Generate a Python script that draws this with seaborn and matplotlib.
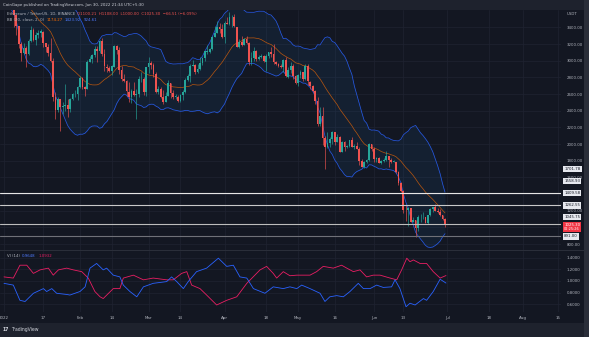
import numpy as np
import pandas as pd
import matplotlib
matplotlib.use("Agg")
import matplotlib.pyplot as plt
import matplotlib.transforms as mtransforms
from matplotlib.patches import Rectangle
from matplotlib.text import Annotation
import seaborn as sns

sns.set_theme(style="dark")
plt.rcParams["font.family"] = ["DejaVu Sans"]

# ---------------- data ----------------
# warm-up closes Dec 12 - Dec 31 2021 (needed for the 20-day Bollinger band)
close_dec = [4130, 3780, 3860, 4020, 3960, 3880, 3960, 3920, 3940, 4020,
             3980, 4110, 4050, 4100, 4070, 4040, 3800, 3630, 3710, 3680]

# daily candles Jan 1 - Jun 30 2022 (ETH/USDT)
close_2022 = [
    3766, 3829, 3761, 3794, 3550, 3418, 3195, 3090, 3157, 3083, 3238, 3372, 3243, 3307, 3330, 3350,
    3212, 3164, 3096, 3000, 2562, 2407, 2537, 2439, 2458, 2467, 2420, 2546, 2598, 2604, 2688,
    2792, 2680, 2660, 2990, 3020, 3065, 3145, 3120, 3240, 3075, 2930, 2915, 2880, 2930, 3180, 3125,
    2885, 2785, 2760, 2630, 2570, 2640, 2590, 2600, 2780, 2780, 2620, 2920,
    2970, 2950, 2840, 2620, 2660, 2560, 2500, 2580, 2730, 2610, 2560, 2570, 2520, 2590, 2620, 2770,
    2820, 2940, 2950, 2860, 2900, 2970, 3030, 3110, 3110, 3140, 3290, 3330, 3400, 3385, 3280,
    3450, 3445, 3520, 3520, 3410, 3170, 3230, 3190, 3260, 3210, 2980, 3030, 3120, 3020, 3040, 3060,
    2990, 3060, 3100, 3080, 2990, 2960, 2940, 2920, 3010, 2810, 2890, 2940, 2820, 2730,
    2830, 2860, 2780, 2940, 2750, 2700, 2640, 2520, 2240, 2340, 2070, 1960, 2010, 2060, 2150, 2020,
    2090, 1910, 2020, 1960, 1975, 2045, 1970, 1980, 1945, 1800, 1725, 1790, 1810, 1995, 1940,
    1815, 1830, 1775, 1800, 1805, 1860, 1810, 1790, 1790, 1665, 1530, 1435, 1210, 1205, 1230, 1070,
    1085, 995, 1125, 1125, 1125, 1050, 1145, 1225, 1240, 1200, 1190, 1145, 1100, 1025.3]
high_2022 = [
    3767, 3852, 3838, 3876, 3842, 3555, 3420, 3230, 3212, 3177, 3260, 3412, 3397, 3341, 3364, 3380,
    3360, 3214, 3195, 3270, 3030, 2620, 2560, 2546, 2505, 2722, 2539, 2550, 2615, 2653, 2696,
    2818, 2802, 2692, 3004, 3060, 3075, 3180, 3175, 3250, 3275, 3140, 2960, 2940, 2950, 3190, 3190,
    3165, 2935, 2840, 2770, 2750, 2660, 2745, 2660, 2815, 2860, 2810, 2930,
    3050, 3000, 2970, 2860, 2700, 2680, 2650, 2630, 2770, 2730, 2650, 2600, 2590, 2600, 2650, 2790,
    2840, 2955, 3010, 2960, 2960, 3040, 3040, 3120, 3190, 3150, 3300, 3420, 3480, 3450, 3440,
    3480, 3530, 3580, 3545, 3555, 3410, 3260, 3300, 3270, 3300, 3220, 3100, 3160, 3130, 3070, 3080,
    3070, 3080, 3110, 3160, 3200, 3000, 2970, 2960, 3020, 3040, 2920, 2980, 2960, 2830,
    2840, 2890, 2870, 2960, 2960, 2760, 2710, 2650, 2560, 2450, 2450, 2100, 2140, 2090, 2160, 2150,
    2120, 2100, 2040, 2040, 1990, 2050, 2080, 1995, 2020, 1960, 1820, 1800, 1820, 2015, 2000,
    1970, 1850, 1840, 1810, 1830, 1920, 1860, 1830, 1810, 1790, 1680, 1540, 1450, 1265, 1240, 1230,
    1130, 1090, 1150, 1160, 1190, 1130, 1150, 1235, 1250, 1280, 1235, 1220, 1145, 1108]
low_2022 = [
    3676, 3722, 3696, 3722, 3400, 3312, 3150, 3000, 3086, 2928, 3066, 3222, 3234, 3185, 3278, 3290,
    3170, 3108, 3054, 2980, 2520, 2300, 2379, 2159, 2364, 2397, 2329, 2385, 2531, 2562, 2530,
    2676, 2657, 2580, 2660, 2980, 2970, 3040, 2990, 3090, 3060, 2880, 2860, 2860, 2830, 2930, 3080,
    2840, 2760, 2745, 2580, 2500, 2490, 2580, 2300, 2560, 2750, 2590, 2580,
    2850, 2900, 2800, 2610, 2600, 2550, 2480, 2500, 2580, 2550, 2540, 2545, 2510, 2510, 2530, 2610,
    2760, 2750, 2940, 2840, 2850, 2890, 2950, 3000, 3080, 3090, 3130, 3280, 3330, 3330, 3270,
    3210, 3440, 3430, 3400, 3400, 3160, 3150, 3180, 3190, 3200, 2950, 2950, 3000, 3000, 3010, 3030,
    2980, 2880, 3030, 3050, 2960, 2950, 2930, 2910, 2860, 2800, 2790, 2850, 2780, 2720,
    2700, 2790, 2760, 2770, 2710, 2660, 2630, 2480, 2220, 2220, 1990, 1700, 1950, 1960, 2000, 1990,
    2020, 1900, 1900, 1920, 1950, 1960, 1960, 1940, 1940, 1750, 1720, 1710, 1770, 1800, 1920,
    1790, 1780, 1770, 1760, 1790, 1800, 1730, 1770, 1780, 1650, 1510, 1420, 1170, 1075, 1015, 1060,
    1060, 880, 960, 1060, 1105, 1050, 1040, 1140, 1180, 1195, 1170, 1140, 1085, 1000]

# horizontal levels drawn on the chart
levels = [1409.58, 1262.55, 1045.75, 891.00]
level_colors = ["#e6e6e6", "#c9c9c9", "#bdbdbd", "#6f7178"]
# price-scale tags without visible lines
extra_tags = [1701.78, 1558.93]
last_price = 1025.30
countdown = "02:25:26"

# Vortex indicator (14) (day offset from Jan 1)
vip_day = [0, 3.8, 6.5, 8.6, 12, 16.1, 17.4, 19.5, 21.5, 25.6, 26.9, 31, 33.1, 35.1, 37.8,
           40.5, 41.9, 44.6, 47.3, 48.7, 51.4, 54.2, 56.9, 60.9, 66.4, 68.4, 70.5, 73.2, 75.2,
           78.6, 82.7, 87.5, 90.9, 93.6, 96.3, 99.1, 101.8, 106.5, 109.9, 114, 116.7, 119.5,
           121.5, 124.9, 129, 131, 133, 135.8, 138.5, 141.2, 144.6, 146.7, 149.4, 152.1, 154.8,
           158.2, 159.6, 161.6, 164.1, 165.7, 167.8, 171.2, 172.5, 175.2, 178, 180.4]
vi_plus = [0.96, 0.93, 0.67, 0.65, 0.79, 0.87, 0.82, 0.87, 0.79, 0.77, 0.76, 0.82, 0.90, 1.22, 1.30,
           1.19, 1.22, 1.10, 1.07, 0.93, 0.82, 0.73, 0.90, 0.96, 0.99, 1.07, 0.99, 0.87, 0.99,
           1.16, 1.22, 1.39, 1.25, 1.27, 1.07, 1.05, 0.87, 0.79, 0.90, 0.87, 0.90, 0.87,
           0.93, 0.87, 0.79, 0.65, 0.73, 0.75, 0.73, 0.82, 0.96, 0.87, 0.87, 0.93, 0.89,
           0.90, 1.02, 0.87, 0.56, 0.62, 0.59, 0.70, 0.67, 0.82, 1.03, 0.9648]
vim_day = [0, 3.8, 6.5, 9.3, 12, 14.7, 18.1, 20.1, 22.2, 25.6, 28.3, 31.7, 34.4, 37.1, 39.2,
           40.5, 44.6, 47.3, 48.7, 52.8, 56.9, 60.9, 66.4, 69.1, 72.5, 74.6, 76.6, 80, 82.7, 86.8,
           90.9, 95, 99.1, 104.5, 107.2, 109.9, 111.3, 114, 116.7, 119.5, 124.9, 127.6, 130.3,
           134.4, 137.8, 139.9, 142.6, 145.3, 148, 150.7, 153.5, 157.6, 160.3, 162.3, 164.4,
           165.7, 167.1, 169.8, 172.5, 175.2, 178, 180.4]
vi_minus = [1.07, 1.05, 1.27, 1.27, 1.13, 1.19, 1.22, 1.10, 1.19, 1.22, 1.19, 1.16, 1.05, 0.82, 0.73,
            0.70, 0.87, 0.87, 1.05, 1.10, 1.02, 1.05, 1.02, 1.02, 1.13, 1.16, 0.93, 0.87, 0.76, 0.59,
            0.67, 0.73, 0.96, 1.19, 1.25, 1.13, 1.05, 1.16, 1.09, 1.10, 1.10, 1.16, 1.25,
            1.22, 1.27, 1.22, 1.16, 1.19, 1.07, 1.10, 1.10, 1.05, 1.02, 1.19, 1.39,
            1.33, 1.36, 1.30, 1.30, 1.16, 1.05, 1.0932]

tick_dates = ["2022-01-01", "2022-01-17", "2022-02-01", "2022-02-14", "2022-03-01", "2022-03-14",
              "2022-04-01", "2022-04-18", "2022-05-01", "2022-05-16", "2022-06-01", "2022-06-13",
              "2022-07-01", "2022-07-18", "2022-08-01", "2022-08-15"]
tick_labels = ["2022", "17", "Feb", "14", "Mar", "14", "Apr", "18", "May", "16", "Jun", "13",
               "Jul", "18", "Aug", "15"]
price_ticks = [800, 1000, 1200, 1400, 1600, 1800, 2000, 2200, 2400, 2600, 2800, 3000, 3200, 3400]
hidden_price_labels = [1000, 1400]  # covered by the scale tags in the reference
vi_ticks = [0.6, 0.8, 1.0, 1.2, 1.4]

# ---------------- frame ----------------
W, H = 589, 337
BG = "#131722"
PANEL = "#1e222d"
TXT = "#b2b5be"
UP, DN = "#26a69a", "#ef5350"
BLUE, ORANGE, PINK = "#2962ff", "#ff6d00", "#e91e63"
LBLUE = "#4f7bff"
FS = 2.8

fig = plt.figure(figsize=(W / 100, H / 100), dpi=100)
fig.patch.set_facecolor("#2a2e39")


def frect(x0, y0, x1, y1, c, z=-10):
    fig.patches.append(Rectangle((x0 / W, 1 - y1 / H), (x1 - x0) / W, (y1 - y0) / H,
                                 transform=fig.transFigure, facecolor=c, edgecolor="none",
                                 zorder=z))


def px_axes(x0, y0, x1, y1):
    return fig.add_axes([x0 / W, 1 - y1 / H, (x1 - x0) / W, (y1 - y0) / H])


def ftext(x, y, s, c=TXT, size=FS, **kw):
    return fig.text(x / W, 1 - y / H, s, color=c, fontsize=size, va="center", ha="left", **kw)


def chain(x, y, parts, gap=1.6, size=FS):
    """Write colored text runs one after another on one line."""
    prev = ftext(x, y, parts[0][0], c=parts[0][1], size=size)
    for s, col in parts[1:]:
        a = Annotation(s, xy=(1, 0.5), xycoords=prev, xytext=(gap, 0),
                       textcoords="offset points", va="center", ha="left",
                       color=col, fontsize=size)
        fig.add_artist(a)
        prev = a


frect(0, 0, 584, 337, BG)
frect(0, 0, 584, 9.5, PANEL)
frect(0, 323, 584, 337, PANEL)
frect(560.5, 9.5, 561.2, 323, "#2a2e39", z=5)
frect(0, 250.2, 584, 251.2, "#2a2e39", z=5)

x_left = -4 / 2.45
x_right = (561 - 4) / 2.45
origin = pd.Timestamp("2022-01-01")

# ---------------- price pane ----------------
ax = px_axes(0, 9.5, 561, 250.2)
ax.set_facecolor(BG)
for s in ax.spines.values():
    s.set_visible(False)

all_close = pd.Series(close_dec + close_2022, dtype=float)
all_days = np.arange(-len(close_dec), len(close_2022))
basis = all_close.rolling(20).mean()
dev = all_close.rolling(20).std(ddof=0)
upper = basis + 2 * dev
lower = basis - 2 * dev

days = np.arange(len(close_2022))
c = np.array(close_2022, dtype=float)
o = all_close.shift(1).to_numpy()[len(close_dec):]
hi = np.maximum(np.array(high_2022, float), np.maximum(o, c))
lo = np.minimum(np.array(low_2022, float), np.minimum(o, c))
col = np.where(c >= o, UP, DN)

ax.fill_between(all_days, lower, upper, color="#2196f3", alpha=0.075, lw=0, zorder=1)
sns.lineplot(x=all_days, y=upper, ax=ax, color=BLUE, lw=0.55, alpha=0.85, zorder=2)
sns.lineplot(x=all_days, y=lower, ax=ax, color=BLUE, lw=0.55, alpha=0.85, zorder=2)
sns.lineplot(x=all_days, y=basis, ax=ax, color=ORANGE, lw=0.5, alpha=0.7, zorder=2)

ax.vlines(days, lo, hi, colors=col, lw=0.45, zorder=3)
body = np.where(np.abs(c - o) < 4, 4, c - o)
ax.bar(days, body, bottom=o, width=0.72, color=col, linewidth=0, zorder=4)

for lv, lc in zip(levels, level_colors):
    ax.axhline(lv, color=lc, lw=0.8, zorder=5)

ax.set_xlim(x_left, x_right)
ax.set_ylim(2000 - (250.2 - 144) * 12, 2000 + (144 - 9.5) * 12)
ax.set_yticks(price_ticks)
ax.yaxis.tick_right()
ax.set_yticklabels(["" if v in hidden_price_labels else f"{v:.2f}" for v in price_ticks])
ax.tick_params(axis="y", length=0, pad=4.0, labelsize=FS, labelcolor=TXT)
tick_days = [(pd.Timestamp(d) - origin).days for d in tick_dates]
ax.set_xticks(tick_days)
ax.tick_params(axis="x", length=0, labelbottom=False)
ax.grid(True, color="#1f2331", lw=0.5)
ax.set_xlabel("")
ax.set_ylabel("")

# price-scale tags
tr = mtransforms.blended_transform_factory(ax.transAxes, ax.transData)
tag_x = 1.0055
tag_nudge = {1045.75: 75}
for lv in extra_tags + levels:
    ax.text(tag_x, lv + tag_nudge.get(lv, 0), f"{lv:.2f}", transform=tr, fontsize=FS,
            color="#131722", va="center", ha="left", clip_on=False, zorder=10,
            bbox=dict(boxstyle="square,pad=0.3", fc="#e6e8ee", ec="none"))
ax.text(tag_x, last_price, f"{last_price:.2f}", transform=tr, fontsize=FS,
        color="white", va="center", ha="left", clip_on=False, zorder=11,
        bbox=dict(boxstyle="square,pad=0.3", fc="#f23645", ec="none"))
ax.text(tag_x, last_price - 50, countdown, transform=tr, fontsize=FS * 0.9,
        color="white", va="center", ha="left", clip_on=False, zorder=11,
        bbox=dict(boxstyle="square,pad=0.3", fc="#f23645", ec="none"))

# ---------------- vortex pane ----------------
ax2 = px_axes(0, 251.2, 561, 312)
ax2.set_facecolor(BG)
for s in ax2.spines.values():
    s.set_visible(False)
sns.lineplot(x=vim_day, y=vi_minus, ax=ax2, color=PINK, lw=0.6, estimator=None, sort=False)
sns.lineplot(x=vip_day, y=vi_plus, ax=ax2, color=BLUE, lw=0.6, estimator=None, sort=False)
ax2.set_xlim(x_left, x_right)
ax2.set_ylim(1 - (312 - 281) / 58.5, 1 + (281 - 251.2) / 58.5)
ax2.set_yticks(vi_ticks)
ax2.yaxis.tick_right()
ax2.set_yticklabels([f"{v:.4f}" for v in vi_ticks])
ax2.tick_params(axis="y", length=0, pad=4.0, labelsize=FS, labelcolor=TXT)
ax2.set_xticks(tick_days)
ax2.set_xticklabels(tick_labels)
ax2.tick_params(axis="x", length=0, pad=3.2, labelsize=2.9, labelcolor=TXT)
ax2.grid(True, color="#1f2331", lw=0.5)
ax2.set_xlabel("")
ax2.set_ylabel("")

# ---------------- texts ----------------
ftext(3, 4.8, "CoinGape published on TradingView.com, Jun 30, 2022 21:34 UTC+5:30",
      c="#d1d4dc")
chain(7, 14.2, [("Ethereum / TetherUS, 1D, BINANCE", TXT),
                ("O1100.21  H1108.00  L1000.00  C1025.30  \u221266.51 (\u22126.09%)", DN)])
chain(7, 20.2, [("BB (20, close, 2, 0)", TXT), ("1174.27", ORANGE),
                ("1423.92", LBLUE), ("924.61", LBLUE)])
chain(7, 256, [("VI (14)", TXT), ("0.9648", LBLUE), ("1.0932", PINK)])
ftext(567, 14, "USDT")
ftext(3, 329.5, "17", c="#d1d4dc", size=3.3, weight="bold")
ftext(11, 329.5, "TradingView", c="#d1d4dc", size=3.3)

fig.savefig("out.png", dpi=100, facecolor=fig.get_facecolor())
